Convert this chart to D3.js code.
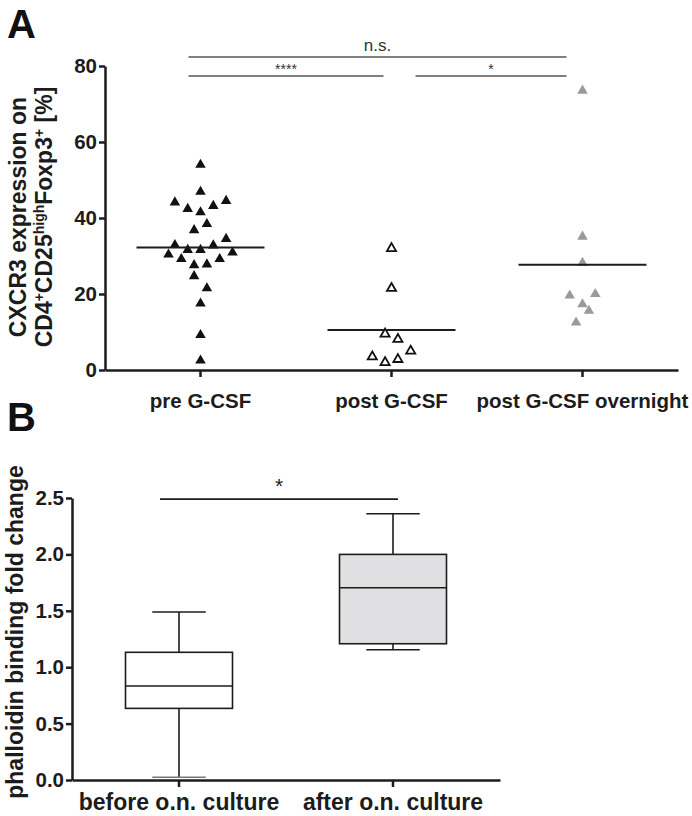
<!DOCTYPE html>
<html><head><meta charset="utf-8">
<script src="https://cdn.jsdelivr.net/npm/d3@7"></script>
<style>
html,body{margin:0;padding:0;background:#fff;}
svg{display:block;font-family:"Liberation Sans",Arial,sans-serif;}
</style></head>
<body><svg id="c" width="692" height="816"></svg>
<script>
// ---------- Panel A data ----------
const categoriesA = ["pre G-CSF", "post G-CSF", "post G-CSF overnight"];
const preValues   = [54, 46.9, 44.1, 42.4, 41.5, 43.2, 44.5, 38.4, 36.8, 34.5, 32.9, 32.8, 31.6, 31.6, 30.4, 30.9, 29.2, 29.2, 27.6, 27.8, 24.7, 21.5, 17.5, 9.2, 2.5];
const preJitter   = [0, 0, -4, -2, 0, 2, 4, 1, -1, 4, -4, 2, -2, 0, -5, 5, -3, 3, -1, 1, -1, 1, 0, 0, 0];
const postValues  = [32, 21.5, 9.5, 8.1, 5.0, 3.5, 2.0, 2.8];
const postJitter  = [0, 0, -1, 1, 3, -3, -1, 1];
const onValues    = [73.5, 35.1, 28.2, 19.6, 20.0, 17.3, 15.6, 12.5];
const onJitter    = [0, 0, 0, -2, 2, 0, 1, -1];
const yTicksA     = [0, 20, 40, 60, 80];
const sigA = [
  {from: "pre G-CSF", to: "post G-CSF overnight", label: "n.s.", level: 1},
  {from: "pre G-CSF", to: "post G-CSF", label: "****", level: 0},
  {from: "post G-CSF", to: "post G-CSF overnight", label: "*", level: 0}
];

// ---------- Panel B data ----------
const categoriesB = ["before o.n. culture", "after o.n. culture"];
const whiskerLow  = [0.024, 1.155];
const quartile1   = [0.635, 1.208];
const medians     = [0.833, 1.705];
const quartile3   = [1.132, 2.0];
const whiskerHigh = [1.489, 2.36];
const yTicksB     = [0, 0.5, 1.0, 1.5, 2.0, 2.5];

const svg = d3.select("#c");
const ink = "#1c1c1c";

// ================= Panel A =================
const xA = d3.scaleBand().domain(categoriesA).range([105, 678]);
const yA = d3.scaleLinear().domain([0, 80]).range([370, 66]);
const jit = d3.scaleLinear().domain([0, 1]).range([0, 6.4]);
const cxA = c => xA(c) + xA.bandwidth() / 2;

svg.append("text").attr("x", 7).attr("y", 38).attr("font-size", 40).attr("font-weight", "bold").attr("fill", "#111").text("A");

const gyA = svg.append("g").attr("transform", "translate(105,0)")
  .call(d3.axisLeft(yA).tickValues(yTicksA).tickSize(6).tickSizeOuter(0).tickFormat(d3.format("d")));
const gxA = svg.append("g").attr("transform", "translate(0,370)")
  .call(d3.axisBottom(xA).tickSize(7).tickSizeOuter(0).tickFormat(""));
[gyA, gxA].forEach(g => {
  g.select(".domain").attr("stroke", ink).attr("stroke-width", 2.5);
  g.selectAll(".tick line").attr("stroke", ink).attr("stroke-width", 2.5);
});
gyA.selectAll(".tick text").attr("font-size", 20.5).attr("font-weight", "bold").attr("fill", ink)
  .attr("font-family", "Liberation Sans, Arial, sans-serif").attr("x", -8);

// category labels
svg.append("g").selectAll("text").data(categoriesA).join("text")
  .attr("x", d => cxA(d)).attr("y", 408).attr("text-anchor", "middle")
  .attr("font-size", 20.5).attr("font-weight", "bold").attr("fill", ink).text(d => d);

// y label A
svg.append("text").attr("transform", "translate(26,217) rotate(-90)")
  .attr("text-anchor", "middle").attr("font-size", 23).attr("font-weight", "bold").attr("fill", ink)
  .text("CXCR3 expression on");
const l2 = svg.append("text").attr("transform", "translate(52,217) rotate(-90)")
  .attr("text-anchor", "middle").attr("font-size", 23).attr("font-weight", "bold").attr("fill", ink);
const parts = [["CD4", 0], ["+", 1], ["CD25", 0], ["high", 1], ["Foxp3", 0], ["+", 1], [" [%]", 0]];
parts.forEach(([t, sup]) => {
  l2.append("tspan").attr("baseline-shift", sup ? "super" : null)
    .attr("font-size", sup ? 14 : 23).text(t);
});

// points
const triBig = d3.symbol(d3.symbolTriangle, 48)();
const triOpen = d3.symbol(d3.symbolTriangle, 36)();
function drawGroup(cat, vals, jits, style) {
  const g = svg.append("g");
  g.selectAll("path").data(vals.map((v, i) => ({v, j: jits[i]}))).join("path")
    .attr("d", style === "open" ? triOpen : triBig)
    .attr("transform", d => `translate(${cxA(cat) + jit(d.j)},${yA(d.v)})`)
    .attr("fill", style === "black" ? "#111" : style === "gray" ? "#9a9a9a" : "#fff")
    .attr("stroke", style === "open" ? "#111" : "none")
    .attr("stroke-width", style === "open" ? 1.8 : 0);
  const m = d3.mean(vals);
  svg.append("line").attr("x1", cxA(cat) - 64).attr("x2", cxA(cat) + 64)
    .attr("y1", yA(m)).attr("y2", yA(m)).attr("stroke", ink).attr("stroke-width", 2);
}
drawGroup(categoriesA[0], preValues, preJitter, "black");
drawGroup(categoriesA[1], postValues, postJitter, "open");
drawGroup(categoriesA[2], onValues, onJitter, "gray");

// significance A
const sigLevelY = [76, 57];
sigA.forEach(s => {
  const x1 = cxA(s.from) - 12 + (s.level === 0 && s.from !== categoriesA[0] ? 36 : 0);
  const x2 = cxA(s.to) - (s.level === 0 && s.to === categoriesA[1] ? 8 : 16);
  const y = sigLevelY[s.level];
  svg.append("line").attr("x1", x1).attr("x2", x2).attr("y1", y).attr("y2", y)
    .attr("stroke", "#555").attr("stroke-width", 1.5);
  svg.append("text").attr("x", (x1 + x2) / 2).attr("y", y - (s.level ? 6 : 2))
    .attr("text-anchor", "middle").attr("font-size", s.level ? 17 : 14)
    .attr("fill", "#333").text(s.label);
});

// ================= Panel B =================
svg.append("text").attr("x", 7).attr("y", 431).attr("font-size", 40).attr("font-weight", "bold").attr("fill", "#111").text("B");

const xB = d3.scaleBand().domain(categoriesB).range([72, 500]);
const yB = d3.scaleLinear().domain([0, 2.5]).range([780, 498]);
const cxB = c => xB(c) + xB.bandwidth() / 2;

const gyB = svg.append("g").attr("transform", "translate(72,0)")
  .call(d3.axisLeft(yB).tickValues(yTicksB).tickSize(6).tickSizeOuter(0).tickFormat(d3.format(".1f")));
const gxB = svg.append("g").attr("transform", "translate(0,780)")
  .call(d3.axisBottom(xB).tickSize(7).tickSizeOuter(0).tickFormat(""));
[gyB, gxB].forEach(g => {
  g.select(".domain").attr("stroke", ink).attr("stroke-width", 2.5);
  g.selectAll(".tick line").attr("stroke", ink).attr("stroke-width", 2.5);
});
gyB.selectAll(".tick text").attr("font-size", 20.5).attr("font-weight", "bold").attr("fill", ink)
  .attr("font-family", "Liberation Sans, Arial, sans-serif").attr("x", -8);

svg.append("g").selectAll("text").data(categoriesB).join("text")
  .attr("x", d => cxB(d)).attr("y", 810).attr("text-anchor", "middle")
  .attr("font-size", 23).attr("font-weight", "bold").attr("fill", ink).text(d => d);

svg.append("text").attr("transform", "translate(23,632) rotate(-90)")
  .attr("text-anchor", "middle").attr("font-size", 23).attr("font-weight", "bold").attr("fill", ink)
  .text("phalloidin binding fold change");

const boxW = xB.bandwidth() * 0.5, capW = boxW * 0.5;
categoriesB.forEach((c, i) => {
  const cx = cxB(c);
  const g = svg.append("g").attr("stroke", ink).attr("stroke-width", 1.6);
  g.append("line").attr("x1", cx).attr("x2", cx).attr("y1", yB(whiskerHigh[i])).attr("y2", yB(quartile3[i]));
  g.append("line").attr("x1", cx).attr("x2", cx).attr("y1", yB(quartile1[i])).attr("y2", yB(whiskerLow[i]));
  g.append("line").attr("x1", cx - capW / 2).attr("x2", cx + capW / 2).attr("y1", yB(whiskerHigh[i])).attr("y2", yB(whiskerHigh[i]));
  g.append("line").attr("x1", cx - capW / 2).attr("x2", cx + capW / 2).attr("y1", yB(whiskerLow[i])).attr("y2", yB(whiskerLow[i]))
    .attr("stroke", i === 0 ? "#777" : ink);
  g.append("rect").attr("x", cx - boxW / 2).attr("width", boxW)
    .attr("y", yB(quartile3[i])).attr("height", yB(quartile1[i]) - yB(quartile3[i]))
    .attr("fill", i === 0 ? "#fff" : "#e0e0e2");
  g.append("line").attr("x1", cx - boxW / 2).attr("x2", cx + boxW / 2).attr("y1", yB(medians[i])).attr("y2", yB(medians[i]));
});

// significance B
const sbx1 = cxB(categoriesB[0]) - 19, sbx2 = cxB(categoriesB[1]) + 5;
svg.append("line").attr("x1", sbx1).attr("x2", sbx2).attr("y1", yB(2.49)).attr("y2", yB(2.49))
  .attr("stroke", ink).attr("stroke-width", 1.6);
svg.append("text").attr("x", (sbx1 + sbx2) / 2).attr("y", yB(2.49) - 6).attr("text-anchor", "middle")
  .attr("font-size", 21).attr("fill", "#222").text("*");
</script></body></html>
